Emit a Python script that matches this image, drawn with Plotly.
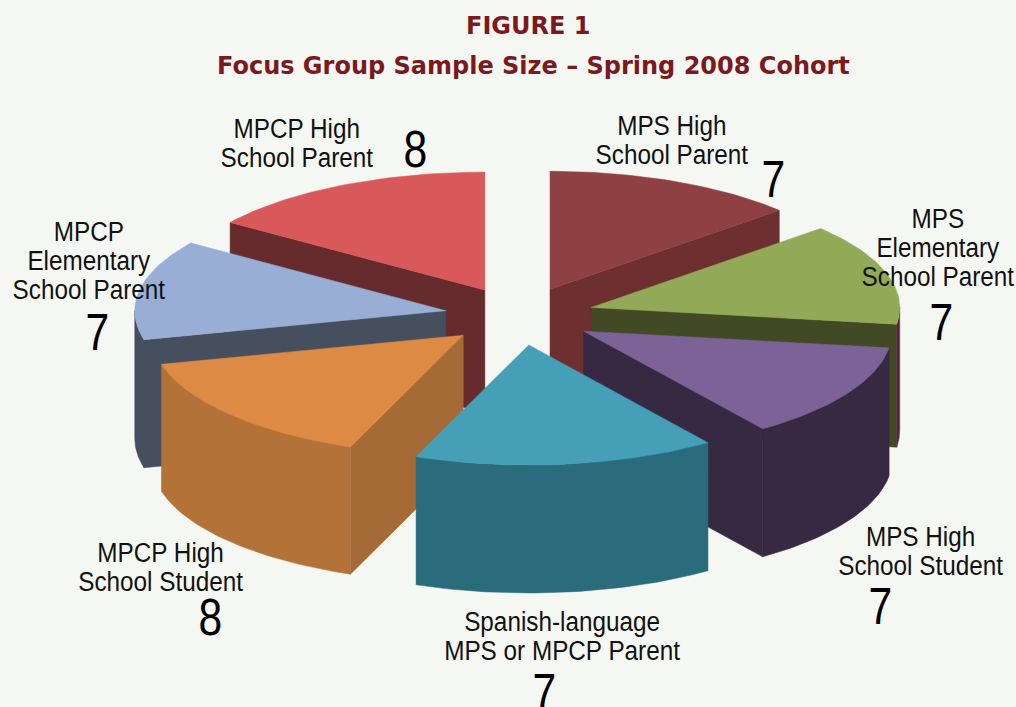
import math
import plotly.graph_objects as go

# --- data ---
categories = ["MPS High School Parent", "MPS Elementary School Parent", "MPS High School Student",
              "Spanish-language MPS or MPCP Parent", "MPCP High School Student",
              "MPCP Elementary School Parent", "MPCP High School Parent"]
values = [7, 7, 7, 7, 8, 7, 8]
# drawn slice sizes (degrees; the drawing is not exactly proportional)
slice_degrees = [48, 50, 46.5, 56.75, 54.75, 49, 55]

# --- style ---
top_colors = ["#8f4043", "#92aa57", "#7c6297", "#459fb7", "#dd8a44", "#99aed4", "#d9585a"]
wall_colors = ["#6e2f30", "#414a25", "#372942", "#2a6b7c", "#a56a35", "#464f5e", "#662c2d"]
rim_colors = ["#6e2f30", "#5a2340", "#372942", "#2a6b7c", "#b27238", "#464f5e", "#662c2d"]
draw_order = [0, 6, 1, 5, 2, 4, 3]

CX, CY = 519.5, 316
A_RIGHT, A_LEFT = 308.5, 311
B_BACK, B_FRONT = 118, 120
EXPLODE = 75
EXPLODE_Y = 29.2
depths = [123, 123, 128, 128, 127, 128, 123]

label_text = ["MPS High<br>School Parent", "MPS<br>Elementary<br>School Parent", "MPS High<br>School Student",
              "Spanish-language<br>MPS or MPCP Parent", "MPCP High<br>School Student",
              "MPCP<br>Elementary<br>School Parent", "MPCP High<br>School Parent"]
label_x = [672, 938, 921, 562, 161, 89, 297]
label_y = [143, 254, 554, 639, 570, 267, 146]
number_x = [773, 941, 880, 544, 210, 97, 415]
number_y = [179, 322, 606, 692, 617, 332, 149]

fig = go.Figure()


def poly(xs, ys, color):
    fig.add_trace(go.Scatter(x=xs + xs[:1], y=ys + ys[:1], mode="lines", fill="toself", fillcolor=color,
                             line=dict(color=color, width=0.5), hoverinfo="skip", showlegend=False))


starts = []
acc = 0
for d in slice_degrees:
    starts.append(acc)
    acc += d

for i in draw_order:
    t1 = starts[i]
    t2 = t1 + slice_degrees[i]
    depth = depths[i]
    mid = math.radians((t1 + t2) / 2)
    ax = CX + EXPLODE * math.sin(mid)
    ay = CY - EXPLODE_Y * math.cos(mid)

    def pt(deg):
        r = math.radians(deg)
        c = math.cos(r)
        s = math.sin(r)
        return ax + (A_RIGHT if s > 0 else A_LEFT) * s, ay - (B_BACK if c > 0 else B_FRONT) * c

    # radial wall facing the viewer
    wall = None
    if math.sin(math.radians(t1)) < -1e-6:
        wall = t1
    elif math.sin(math.radians(t2)) > 1e-6:
        wall = t2
    if wall is not None:
        px, py = pt(wall)
        poly([ax, px, px, ax], [ay, py, py + depth, ay + depth], wall_colors[i])
    # outer rim (front half of the ellipse only)
    lo, hi = max(t1, 90), min(t2, 270)
    if hi > lo:
        degs = [lo + (hi - lo) * k / 40 for k in range(41)]
        pts = [pt(d) for d in degs]
        xs = [p[0] for p in pts]
        ys = [p[1] for p in pts]
        poly(xs + xs[::-1], ys + [y + depth for y in ys[::-1]], rim_colors[i])
    # top face
    degs = [t1 + (t2 - t1) * k / 40 for k in range(41)]
    pts = [pt(d) for d in degs]
    poly([ax] + [p[0] for p in pts], [ay] + [p[1] for p in pts], top_colors[i])

FONT = "Liberation Sans"
ann = []
for i in range(len(categories)):
    ann.append(dict(x=label_x[i], y=label_y[i], text=label_text[i], showarrow=False, xref="x", yref="y",
                    font=dict(family=FONT, size=27, color="#111111"), align="center"))
    ann.append(dict(x=number_x[i], y=number_y[i], text=str(values[i]), showarrow=False, xref="x", yref="y",
                    font=dict(family=FONT, size=52, color="#000000")))
TITLE = "#7a1a1e"
ann.append(dict(x=528, y=26, text="<b>FIGURE 1</b>", showarrow=False, xref="x", yref="y",
                font=dict(family="DejaVu Sans", size=24, color=TITLE)))
ann.append(dict(x=533.5, y=66, text="<b>Focus Group Sample Size – Spring 2008 Cohort</b>", showarrow=False,
                xref="x", yref="y", font=dict(family="DejaVu Sans", size=24, color=TITLE)))

fig.update_layout(width=1016, height=707, margin=dict(l=0, r=0, t=0, b=0), paper_bgcolor="#f5f7f2",
                  plot_bgcolor="#f5f7f2", annotations=ann, showlegend=False,
                  xaxis=dict(range=[0, 1016], visible=False, fixedrange=True),
                  yaxis=dict(range=[707, 0], visible=False, fixedrange=True))

# The reference's labels are set in a narrow face: condense the real text and tighten its leading.
post = """
document.body.style.margin='0';document.body.style.background='#f5f7f2';
document.querySelectorAll('text.annotation-text').forEach(function(t){
  var size=parseFloat(t.style.fontSize);
  var family=t.style.fontFamily||'';
  if(family.indexOf('Liberation')<0){return;}
  var sx=size>40?0.82:0.9;
  t.querySelectorAll('tspan.line').forEach(function(s){
    var dy=s.getAttribute('dy');
    if(dy){s.setAttribute('dy',(parseFloat(dy)*0.83)+'em');}
  });
  var b=t.getBBox();var cx=b.x+b.width/2;
  t.setAttribute('transform','translate('+cx+',0) scale('+sx+',1) translate('+(-cx)+',0)');
});
"""
fig.write_html("out.html", config={"displayModeBar": False}, post_script=post)
